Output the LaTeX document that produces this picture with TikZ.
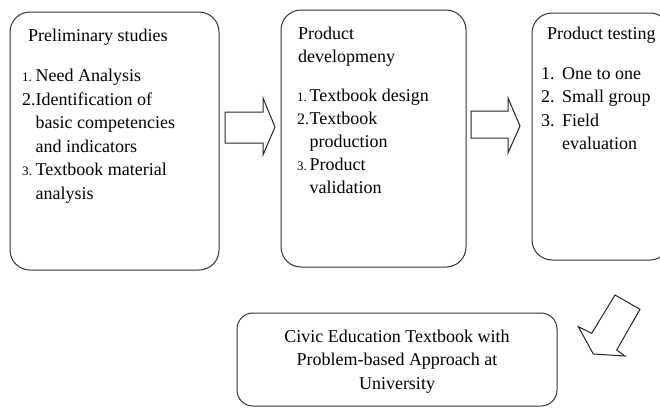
\documentclass[tikz,border=0pt]{standalone}
\usepackage{fontspec}
\setmainfont{Liberation Serif}
\newcommand{\smn}[1]{{\fontsize{13}{13}\selectfont #1}}
\begin{document}
\begin{tikzpicture}[x=1pt,y=-1pt,
  box/.style={draw=black!80, line width=1pt, rounded corners=20pt, inner sep=0pt},
  blockarrow/.style={draw=black!85, line width=1pt, fill=white, line join=miter},
  txt/.style={anchor=base west, inner sep=0pt, font=\fontsize{18}{23.5}\selectfont},
  ctxt/.style={anchor=base, inner sep=0pt, font=\fontsize{18}{23.5}\selectfont},
]
\useasboundingbox (0,0) rectangle (660,408);
\fill[white] (0,0) rectangle (660,408);
\begin{scope}
\clip (0,0) rectangle (660,408);
% boxes
\node[box, minimum width=209pt, minimum height=258pt] (b1) at (114.5,141) {};
\node[box, minimum width=185pt, minimum height=257pt] (b2) at (373.5,138.5) {};
\node[box, minimum width=138pt, minimum height=247pt] (b3) at (601,136.5) {};
\node[box, rounded corners=16pt, minimum width=320pt, minimum height=93pt] (b4) at (397,359.5) {};
% box 1 text
\node[txt] (t1) at (28,41.7) {Preliminary studies};
\node[txt] (l1) at (22,81.7) {\begin{tabular}[t]{@{}p{13.5pt}@{}l@{}}
\smn{1.} & Need Analysis\\
2. & Identification of\\
 & basic competencies\\
 & and indicators\\
\smn{3.} & Textbook material\\
 & analysis
\end{tabular}};
% box 2 text
\node[txt] (t2) at (298,39) {\begin{tabular}[t]{@{}l@{}}
Product\\
developmeny
\end{tabular}};
\node[txt, font=\fontsize{18}{23}\selectfont] (l2) at (297,101) {\begin{tabular}[t]{@{}p{12.5pt}@{}l@{}}
\smn{1.} & Textbook design\\
{\fontsize{16}{16}\selectfont 2.} & Textbook\\
 & production\\
\smn{3.} & Product\\
 & validation
\end{tabular}};
% box 3 text
\node[txt] (t3) at (547,39) {Product testing};
\node[txt] (l3) at (541,79) {\begin{tabular}[t]{@{}p{21pt}@{}l@{}}
1. & One to one\\
2. & Small group\\
3. & Field\\
 & evaluation
\end{tabular}};
% box 4 text
\node[ctxt] (t4) at (397,342) {\begin{tabular}[t]{@{}c@{}}
Civic Education Textbook with\\
Problem-based Approach at\\
University
\end{tabular}};
% block arrows
\draw[blockarrow] (225,112) -- (263,112) -- (263,98) -- (275,127) -- (263,155) -- (263,143) -- (225,143) -- cycle;
\draw[blockarrow] (471,111) -- (508,111) -- (508,98) -- (520,126) -- (508,153) -- (508,138) -- (471,138) -- cycle;
\draw[blockarrow] (615,295) -- (640,309.3) -- (616.7,350) -- (625,356) -- (593.3,354) -- (578.3,326.7) -- (591.7,333.3) -- cycle;
\end{scope}
\end{tikzpicture}
\end{document}
